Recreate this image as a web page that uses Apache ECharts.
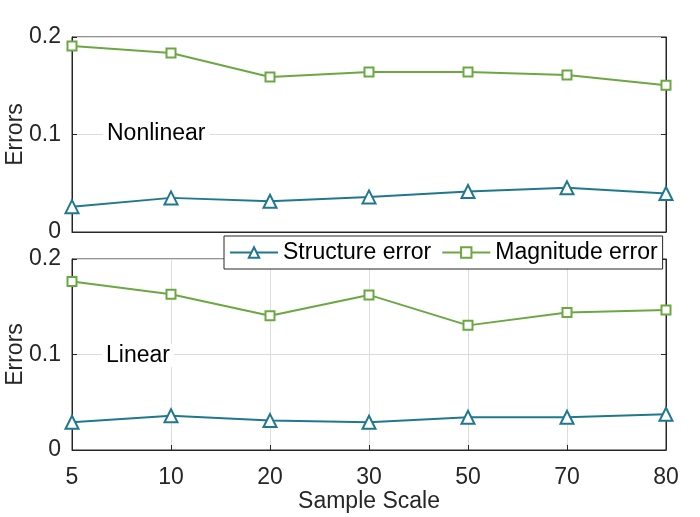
<!DOCTYPE html>
<html>
<head>
<meta charset="utf-8">
<script src="https://cdn.jsdelivr.net/npm/echarts@6/dist/echarts.min.js"></script>
<style>
  html, body { margin: 0; padding: 0; background: #fff; }
  #chart { width: 700px; height: 517px; }
</style>
</head>
<body>
<div id="chart"></div>
<script>
// sample scales on the x axis
var scales = ['5', '10', '20', '30', '50', '70', '80'];
var yTicks = [0, 0.1, 0.2];

// top panel (Nonlinear)
var nonlinStructure = [0.026, 0.035, 0.0316, 0.036, 0.0415, 0.0453, 0.0395];
var nonlinMagnitude = [0.1907, 0.1835, 0.159, 0.164, 0.164, 0.161, 0.1506];

// bottom panel (Linear)
var linStructure = [0.029, 0.0358, 0.0308, 0.029, 0.0343, 0.0343, 0.0375];
var linMagnitude = [0.1764, 0.163, 0.1406, 0.1624, 0.1305, 0.144, 0.1466];

var teal = '#20788f';
var green = '#6aa842';
var ink = '#262626';
var font = 'Liberation Sans, Arial, Helvetica, sans-serif';
var fs = 23;

function xAx(idx, bottom) {
    return {
        type: 'category',
        gridIndex: idx,
        data: scales,
        boundaryGap: false,
        axisLine: { show: true, lineStyle: { color: ink, width: 1 } },
        axisTick: { show: bottom, inside: true, length: 5, lineStyle: { color: ink } },
        axisLabel: { show: bottom, fontSize: fs, color: ink, fontFamily: font, margin: 16 },
        splitLine: { show: bottom, lineStyle: { color: '#dcdcdc', width: 1 } },
        name: bottom ? 'Sample Scale' : '',
        nameLocation: 'middle',
        nameGap: 40,
        nameMoveOverlap: false,
        nameTextStyle: { fontSize: fs, color: ink, fontFamily: font }
    };
}

function yAx(idx) {
    return {
        type: 'value',
        gridIndex: idx,
        min: 0,
        max: 0.2,
        interval: 0.1,
        axisLine: { show: true, lineStyle: { color: ink, width: 1 } },
        axisTick: { show: true, inside: true, length: 5, lineStyle: { color: ink } },
        axisLabel: {
            fontSize: fs, color: ink, fontFamily: font, margin: 11,
            formatter: function (v) {
                for (var i = 0; i < yTicks.length; i++) {
                    if (Math.abs(v - yTicks[i]) < 1e-9) return String(yTicks[i]);
                }
                return '';
            }
        },
        splitLine: { show: true, lineStyle: { color: '#dcdcdc', width: 1 } },
        name: 'Errors',
        nameLocation: 'middle',
        nameGap: 45,
        nameMoveOverlap: false,
        nameTextStyle: { fontSize: fs, color: ink, fontFamily: font }
    };
}

// right-hand box side with its inward ticks, no labels
function yRight(idx) {
    return {
        type: 'value',
        gridIndex: idx,
        position: 'right',
        min: 0,
        max: 0.2,
        interval: 0.1,
        axisLine: { show: true, lineStyle: { color: ink, width: 1 } },
        axisTick: { show: true, inside: true, length: 5, lineStyle: { color: ink } },
        axisLabel: { show: false },
        splitLine: { show: false }
    };
}

function line(name, data, idx, color, symbol, size) {
    return {
        name: name,
        type: 'line',
        xAxisIndex: idx,
        yAxisIndex: idx,
        data: data,
        symbol: symbol,
        symbolSize: size,
        showAllSymbol: true,
        lineStyle: { color: color, width: 2 },
        itemStyle: { color: '#fff', borderColor: color, borderWidth: 2 },
        z: 3
    };
}

var myChart = echarts.init(document.getElementById('chart'));
var option = {
    backgroundColor: '#fff',
    animation: false,
    textStyle: { fontFamily: font },
    grid: [
        { left: 72, top: 37, width: 594, height: 195, outerBoundsMode: 'none', containLabel: false, show: true, borderColor: ink, borderWidth: 1, backgroundColor: 'transparent' },
        { left: 72, top: 259, width: 594, height: 191, outerBoundsMode: 'none', containLabel: false, show: true, borderColor: ink, borderWidth: 1, backgroundColor: 'transparent' }
    ],
    legend: {
        left: 224,
        top: 236,
        padding: [5, 5, 5, 5],
        itemGap: 10,
        itemWidth: 48,
        itemHeight: 13,
        backgroundColor: '#fff',
        borderColor: ink,
        borderWidth: 1,
        borderRadius: 0,
        textStyle: { fontSize: fs, color: '#000', fontFamily: font },
        data: ['Structure error', 'Magnitude error'],
        z: 10
    },
    xAxis: [xAx(0, false), xAx(1, true)],
    yAxis: [yAx(0), yAx(1), yRight(0), yRight(1)],
    graphic: [
        { type: 'text', left: 103, top: 122, z: 2, style: { text: 'Nonlinear', fontSize: fs, fill: '#000', fontFamily: font, backgroundColor: '#fff', padding: [0, 4] } },
        { type: 'text', left: 102, top: 344, z: 2, style: { text: 'Linear', fontSize: fs, fill: '#000', fontFamily: font, backgroundColor: '#fff', padding: [0, 4] } }
    ],
    series: [
        line('Structure error', nonlinStructure, 0, teal, 'triangle', 13),
        line('Magnitude error', nonlinMagnitude, 0, green, 'rect', 9),
        line('Structure error', linStructure, 1, teal, 'triangle', 13),
        line('Magnitude error', linMagnitude, 1, green, 'rect', 9)
    ]
};
myChart.setOption(option);
</script>
</body>
</html>
